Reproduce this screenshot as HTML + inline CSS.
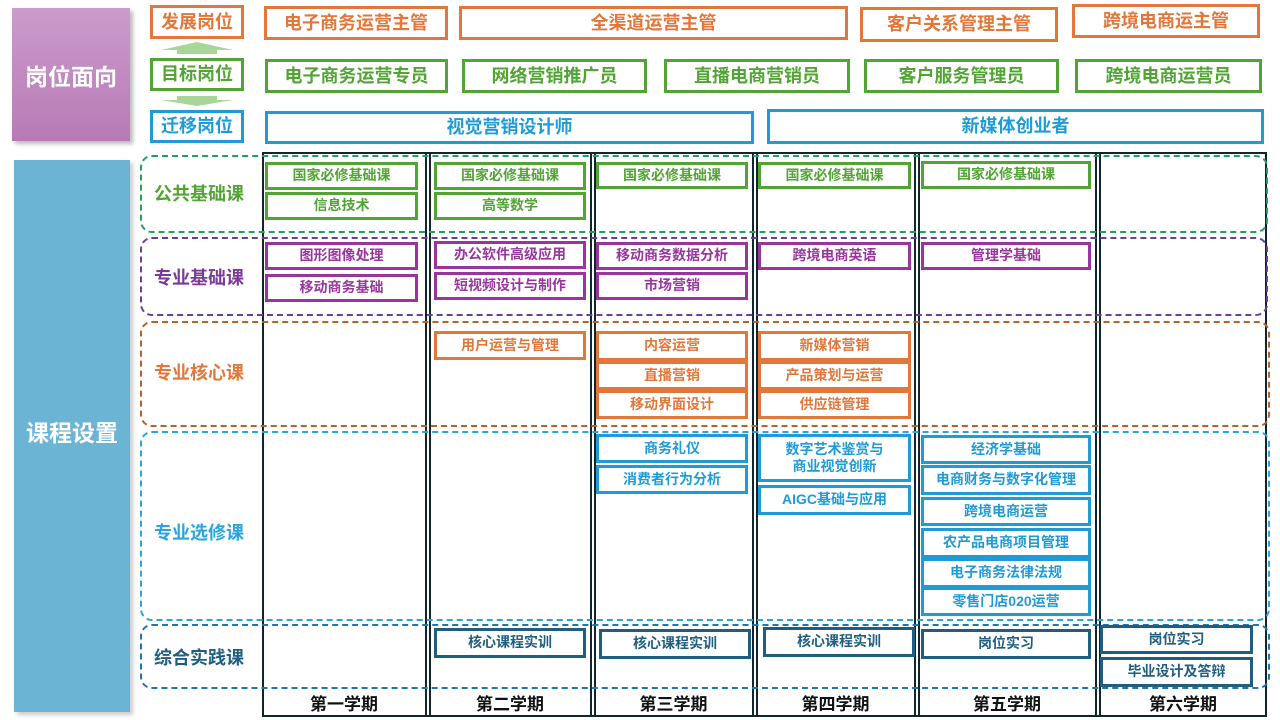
<!DOCTYPE html>
<html><head><meta charset="utf-8">
<style>
body{margin:0;width:1280px;height:720px;position:relative;background:#fff;overflow:hidden;font-family:"Liberation Sans","Noto Sans CJK SC",sans-serif;}
.b{position:absolute;display:flex;align-items:center;justify-content:center;box-sizing:border-box;border:3px solid;font-weight:bold;background:#fff;text-align:center;line-height:1.25;}
.o{border-color:#E2773A;color:#E2773A}
.g{border-color:#52A435;color:#52A435}
.u{border-color:#1F9BD6;color:#1F9BD6}
.p{border-color:#9A35A0;color:#9A35A0}
.t{border-color:#1F5E80;color:#1F5E80}
.h{font-size:18px}
.c{font-size:14px}
.d{position:absolute;box-sizing:border-box;border:2px dashed;border-radius:12px;}
.lab{position:absolute;left:140px;width:118px;text-align:center;font-weight:bold;font-size:18px;}
.v{position:absolute;top:152px;height:565px;width:2px;background:#10262F}
.sem{position:absolute;top:690px;height:24px;font-weight:bold;font-size:17px;text-align:center;color:#111}
</style></head><body>
<!-- left blocks -->
<div style="position:absolute;left:12px;top:8px;width:118px;height:133px;background:linear-gradient(#CB9CCB,#B77AB5);box-shadow:3px 3px 4px #bbb;color:#fff;font-weight:bold;font-size:23px;display:flex;align-items:center;justify-content:center;">岗位面向</div>
<div style="position:absolute;left:14px;top:160px;width:116px;height:552px;background:#6CB4D3;box-shadow:3px 3px 4px #ccc;color:#fff;font-weight:bold;font-size:23px;display:flex;align-items:center;justify-content:center;padding-bottom:0;"><span style="position:relative;top:-5px">课程设置</span></div>

<!-- position labels -->
<div class="b o h" style="left:150px;top:5px;width:94px;height:34px;">发展岗位</div>
<div class="b g h" style="left:150px;top:58px;width:94px;height:33px;">目标岗位</div>
<div class="b u h" style="left:150px;top:110px;width:94px;height:33px;">迁移岗位</div>
<svg style="position:absolute;left:130px;top:40px" width="140" height="70">
<polygon points="67,2 103,10 87,10 87,14 47,14 47,10 31,10" fill="#A8D59A"/>
<polygon points="47,56 87,56 87,60 103,60 67,66 31,60 47,60" fill="#A8D59A"/>
</svg>

<div class="b o h" style="left:264px;top:6px;width:184px;height:34px;">电子商务运营主管</div>
<div class="b o h" style="left:459px;top:6px;width:389px;height:34px;">全渠道运营主管</div>
<div class="b o h" style="left:860px;top:7px;width:198px;height:35px;">客户关系管理主管</div>
<div class="b o h" style="left:1072px;top:4px;width:188px;height:34px;">跨境电商运主管</div>

<div class="b g h" style="left:265px;top:59px;width:183px;height:34px;">电子商务运营专员</div>
<div class="b g h" style="left:462px;top:59px;width:185px;height:34px;">网络营销推广员</div>
<div class="b g h" style="left:664px;top:59px;width:186px;height:34px;">直播电商营销员</div>
<div class="b g h" style="left:864px;top:59px;width:195px;height:34px;">客户服务管理员</div>
<div class="b g h" style="left:1075px;top:59px;width:187px;height:34px;">跨境电商运营员</div>

<div class="b u h" style="left:265px;top:111px;width:489px;height:33px;">视觉营销设计师</div>
<div class="b u h" style="left:767px;top:109px;width:497px;height:35px;">新媒体创业者</div>

<!-- grid -->
<div style="position:absolute;left:262px;top:152px;width:1005px;height:565px;box-sizing:border-box;border:2px solid #10262F;"></div>
<div class="v" style="left:425px"></div><div class="v" style="left:429px"></div>
<div class="v" style="left:590px"></div><div class="v" style="left:594px"></div>
<div class="v" style="left:752px"></div><div class="v" style="left:756px"></div>
<div class="v" style="left:914px"></div><div class="v" style="left:918px"></div>
<div class="v" style="left:1095px"></div><div class="v" style="left:1099px"></div>

<!-- dashed groups -->
<div class="d" style="left:140px;top:155px;width:1128px;height:78px;border-color:#23A060;"></div>
<div class="d" style="left:140px;top:237px;width:1128px;height:79px;border-color:#6C3E9B;"></div>
<div class="d" style="left:140px;top:321px;width:1130px;height:106px;border-color:#B8622A;"></div>
<div class="d" style="left:140px;top:431px;width:1130px;height:190px;border-color:#2AA5DE;"></div>
<div class="d" style="left:140px;top:624px;width:1130px;height:65px;border-color:#2176AC;"></div>

<div class="lab" style="top:180px;color:#52A435">公共基础课</div>
<div class="lab" style="top:264px;color:#7B3A98">专业基础课</div>
<div class="lab" style="top:359px;color:#E2773A">专业核心课</div>
<div class="lab" style="top:519px;color:#2AA5DE">专业选修课</div>
<div class="lab" style="top:644px;color:#1F5E80">综合实践课</div>

<!-- 公共 -->
<div class="b g c" style="left:265px;top:162px;width:153px;height:28px;">国家必修基础课</div>
<div class="b g c" style="left:265px;top:192px;width:153px;height:28px;">信息技术</div>
<div class="b g c" style="left:434px;top:162px;width:152px;height:28px;">国家必修基础课</div>
<div class="b g c" style="left:434px;top:192px;width:152px;height:28px;">高等数学</div>
<div class="b g c" style="left:596px;top:162px;width:152px;height:27px;">国家必修基础课</div>
<div class="b g c" style="left:758px;top:162px;width:153px;height:27px;">国家必修基础课</div>
<div class="b g c" style="left:921px;top:161px;width:170px;height:28px;">国家必修基础课</div>

<!-- 专基 -->
<div class="b p c" style="left:265px;top:242px;width:153px;height:28px;">图形图像处理</div>
<div class="b p c" style="left:265px;top:274px;width:153px;height:28px;">移动商务基础</div>
<div class="b p c" style="left:434px;top:241px;width:152px;height:28px;">办公软件高级应用</div>
<div class="b p c" style="left:434px;top:272px;width:152px;height:28px;">短视频设计与制作</div>
<div class="b p c" style="left:596px;top:242px;width:152px;height:28px;">移动商务数据分析</div>
<div class="b p c" style="left:596px;top:272px;width:152px;height:28px;">市场营销</div>
<div class="b p c" style="left:758px;top:242px;width:153px;height:28px;">跨境电商英语</div>
<div class="b p c" style="left:921px;top:242px;width:170px;height:28px;">管理学基础</div>

<!-- 核心 -->
<div class="b o c" style="left:434px;top:331px;width:152px;height:29px;">用户运营与管理</div>
<div class="b o c" style="left:596px;top:331px;width:152px;height:30px;">内容运营</div>
<div class="b o c" style="left:596px;top:361px;width:152px;height:29px;">直播营销</div>
<div class="b o c" style="left:596px;top:390px;width:152px;height:29px;">移动界面设计</div>
<div class="b o c" style="left:758px;top:331px;width:153px;height:30px;">新媒体营销</div>
<div class="b o c" style="left:758px;top:361px;width:153px;height:29px;">产品策划与运营</div>
<div class="b o c" style="left:758px;top:390px;width:153px;height:29px;">供应链管理</div>

<!-- 选修 -->
<div class="b u c" style="left:596px;top:434px;width:152px;height:29px;">商务礼仪</div>
<div class="b u c" style="left:596px;top:465px;width:152px;height:29px;">消费者行为分析</div>
<div class="b u c" style="left:758px;top:434px;width:153px;height:48px;">数字艺术鉴赏与<br>商业视觉创新</div>
<div class="b u c" style="left:758px;top:485px;width:153px;height:30px;">AIGC基础与应用</div>
<div class="b u c" style="left:921px;top:435px;width:170px;height:29px;">经济学基础</div>
<div class="b u c" style="left:921px;top:465px;width:170px;height:30px;">电商财务与数字化管理</div>
<div class="b u c" style="left:921px;top:497px;width:170px;height:29px;">跨境电商运营</div>
<div class="b u c" style="left:921px;top:528px;width:170px;height:30px;">农产品电商项目管理</div>
<div class="b u c" style="left:921px;top:558px;width:170px;height:30px;">电子商务法律法规</div>
<div class="b u c" style="left:921px;top:587px;width:170px;height:29px;">零售门店020运营</div>

<!-- 综合 -->
<div class="b t c" style="left:434px;top:628px;width:152px;height:30px;">核心课程实训</div>
<div class="b t c" style="left:599px;top:629px;width:152px;height:30px;">核心课程实训</div>
<div class="b t c" style="left:763px;top:627px;width:152px;height:30px;">核心课程实训</div>
<div class="b t c" style="left:921px;top:629px;width:170px;height:30px;">岗位实习</div>
<div class="b t c" style="left:1100px;top:625px;width:153px;height:29px;">岗位实习</div>
<div class="b t c" style="left:1100px;top:657px;width:153px;height:30px;">毕业设计及答辩</div>

<!-- semesters -->
<div class="sem" style="left:264px;width:160px;">第一学期</div>
<div class="sem" style="left:430px;width:160px;">第二学期</div>
<div class="sem" style="left:595px;width:157px;">第三学期</div>
<div class="sem" style="left:757px;width:157px;">第四学期</div>
<div class="sem" style="left:919px;width:176px;">第五学期</div>
<div class="sem" style="left:1100px;width:166px;">第六学期</div>
</body></html>
